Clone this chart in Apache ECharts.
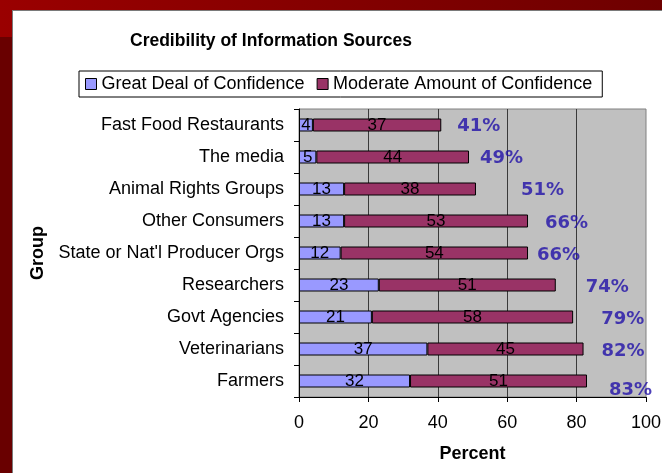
<!DOCTYPE html>
<html><head><meta charset="utf-8">
<script src="https://cdn.jsdelivr.net/npm/echarts/dist/echarts.min.js"></script>
<style>
html,body{margin:0;padding:0;width:662px;height:473px;overflow:hidden;background:#690000;}
#band{position:absolute;left:0;top:0;width:662px;height:37px;background:linear-gradient(to right,#9a0000,#6e0000);}
#panel{position:absolute;left:12px;top:10px;width:660px;height:470px;background:#fff;border-left:1px solid #7a7a7a;border-top:1px solid #7a7a7a;}
#chart{position:absolute;left:0;top:0;width:662px;height:473px;}
</style></head><body>
<div id="band"></div><div id="panel"></div><div id="chart"></div>
<script>
const categories = ['Fast Food Restaurants','The media','Animal Rights Groups','Other Consumers',"State or Nat'l Producer Orgs",'Researchers','Govt Agencies','Veterinarians','Farmers'];
const greatDeal = [4,5,13,13,12,23,21,37,32];
const moderate = [37,44,38,53,54,51,58,45,51];
const totals = [41,49,51,66,66,74,79,82,83];
const xMin = 0, xMax = 100, xStep = 20;
// label placement (style only)
const totalLabelOffsets = [[11,1],[6,1],[40,1],[12,2],[4,2],[25,2],[23,2],[13,2],[17,9]];

const font = 'Liberation Sans, Arial, sans-serif';
const chart = echarts.init(document.getElementById('chart'), null, {renderer:'canvas'});
chart.setOption({
  animation: false,
  textStyle: {fontFamily: font},
  title: {
    text: 'Credibility of Information Sources',
    left: 130, top: 32, padding: 0,
    textStyle: {fontFamily: font, fontWeight: 'bold', fontSize: 17.5, color: '#000'}
  },
  legend: {
    data: ['Great Deal of Confidence','Moderate Amount of Confidence'],
    left: 79, top: 71, padding: [4,10,4,6],
    orient: 'horizontal',
    icon: 'rect', itemWidth: 11, itemHeight: 11, itemGap: 12,
    borderColor: '#000', borderWidth: 1, backgroundColor: '#fff',
    itemStyle: {borderColor: '#000', borderWidth: 1},
    textStyle: {fontFamily: font, fontSize: 18, color: '#000'}
  },
  grid: {
    left: 299, right: 16, top: 109, bottom: 76,
    show: true, backgroundColor: '#C0C0C0', borderColor: '#808080', borderWidth: 1,
    containLabel: false, outerBoundsMode: 'none'
  },
  xAxis: {
    type: 'value', min: xMin, max: xMax, interval: xStep,
    name: 'Percent', nameLocation: 'middle', nameGap: 48,
    nameTextStyle: {fontFamily: font, fontWeight: 'bold', fontSize: 18, color: '#000'},
    axisLine: {show: true, lineStyle: {color: '#000', width: 1}},
    axisTick: {show: true, length: 5, lineStyle: {color: '#000'}},
    axisLabel: {fontFamily: font, fontSize: 18, color: '#000', margin: 17},
    splitLine: {show: true, showMaxLine: false, showMinLine: false, lineStyle: {color: '#3a3a3a', width: 1}}
  },
  yAxis: {
    type: 'category', data: categories, inverse: true,
    name: 'Group', nameLocation: 'middle', nameRotate: 90, nameGap: 252,
    nameTextStyle: {fontFamily: font, fontWeight: 'bold', fontSize: 18, color: '#000'},
    axisLine: {show: true, lineStyle: {color: '#000', width: 1}},
    axisTick: {show: true, length: 5, inside: false, lineStyle: {color: '#000'}},
    axisLabel: {fontFamily: font, fontSize: 18, color: '#000', margin: 15},
    splitLine: {show: false}
  },
  series: [
    {
      name: 'Great Deal of Confidence', type: 'bar', stack: 'total', barWidth: 13,
      data: greatDeal,
      itemStyle: {color: '#9999FF', borderColor: '#000', borderWidth: 1},
      label: {show: true, position: 'inside', fontFamily: font, fontSize: 17, color: '#000'}
    },
    {
      name: 'Moderate Amount of Confidence', type: 'bar', stack: 'total', barWidth: 13,
      data: moderate,
      itemStyle: {color: '#993366', borderColor: '#000', borderWidth: 1},
      label: {show: true, position: 'inside', fontFamily: font, fontSize: 17, color: '#000'}
    },
    {
      name: 'Total', type: 'scatter', symbolSize: 0, silent: true,
      data: totals.map((t, i) => ({
        value: [t, categories[i]],
        label: {offset: totalLabelOffsets[i]}
      })),
      label: {
        show: true, position: 'right', distance: 5,
        formatter: p => p.value[0] + '%',
        fontFamily: 'DejaVu Sans, Verdana, sans-serif', fontWeight: 'bold', fontSize: 18, color: '#2010A8'
      }
    }
  ]
});
</script>
</body></html>
